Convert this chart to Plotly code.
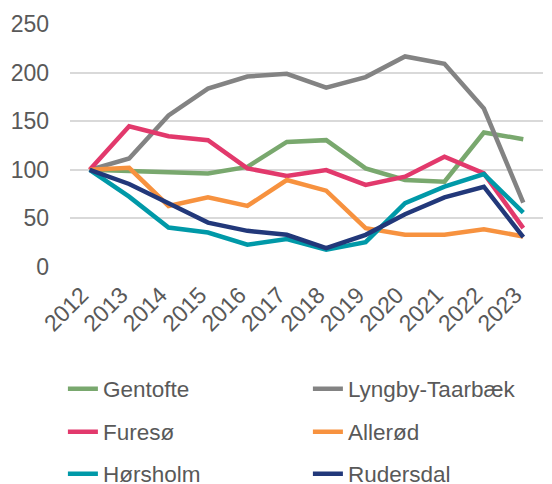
import plotly.graph_objects as go

years = [str(y) for y in range(2012, 2024)]
gentofte = [100, 99, 98, 96.3, 103, 128.7, 130.5, 101.5, 89.5, 87.8, 138.4, 131.5]
lyngby = [100, 111.7, 156, 183.5, 196, 198.8, 184.5, 195.4, 216.6, 209, 163, 66.2]
fureso = [100, 144.8, 134.6, 130.5, 101.5, 93.6, 99.7, 84.4, 92.9, 113.4, 96.3, 40]
allerod = [100, 102, 62.8, 71.7, 62.8, 89.5, 78.5, 40, 33.1, 33.1, 38.9, 31.4]
horsholm = [100, 72.4, 40.6, 35.5, 22.9, 28.7, 17.7, 25.6, 65.6, 82.6, 95.6, 56]
rudersdal = [100, 85.4, 65.6, 45.7, 37.2, 33.1, 19.5, 33.1, 54.3, 71.7, 82.6, 30.7]
y_ticks = [0, 50, 100, 150, 200, 250]

series = [
    ("Gentofte", gentofte, "#79A86E", "legend"),
    ("Lyngby-Taarbæk", lyngby, "#838383", "legend"),
    ("Furesø", fureso, "#E2396C", "legend2"),
    ("Allerød", allerod, "#F7923F", "legend2"),
    ("Hørsholm", horsholm, "#0099A8", "legend3"),
    ("Rudersdal", rudersdal, "#22387A", "legend3"),
]

fig = go.Figure()
for name, vals, color, leg in series:
    fig.add_trace(go.Scatter(x=years, y=vals, name=name, mode="lines",
                             line=dict(color=color, width=4.5), legend=leg))

tick_font = dict(family="Liberation Sans, Arial, sans-serif", size=23, color="#595959")
leg_font = dict(family="Liberation Sans, Arial, sans-serif", size=22.5, color="#595959")
leg_common = dict(orientation="h", x=-0.015, xanchor="left", yanchor="middle",
                  entrywidth=200, font=leg_font,
                  bgcolor="rgba(0,0,0,0)", itemwidth=30)

# The page body adds an 8px offset; size the figure to fill the remaining window.
fig.update_layout(
    width=544, height=476,
    margin=dict(l=62, r=9, t=16, b=217, autoexpand=False),
    paper_bgcolor="white", plot_bgcolor="white",
    font=tick_font,
    showlegend=True,
    legend=dict(**leg_common, y=-(389 - 267) / 243),
    legend2=dict(**leg_common, y=-(432 - 267) / 243),
    legend3=dict(**leg_common, y=-(474 - 267) / 243),
    xaxis=dict(type="category", range=[-0.5, 11.5], tickangle=-45, showgrid=False,
               showline=False, ticks="", ticklabelstandoff=9, ticklabelshift=-8,
               tickfont=tick_font, automargin=False),
    yaxis=dict(range=[0, 250], tickvals=y_ticks, showgrid=True, gridcolor="#D9D9D9",
               gridwidth=1.5, zeroline=False, showline=False, ticks="",
               tickfont=tick_font, ticklabelstandoff=20, automargin=False),
)
fig.write_html("out.html")
